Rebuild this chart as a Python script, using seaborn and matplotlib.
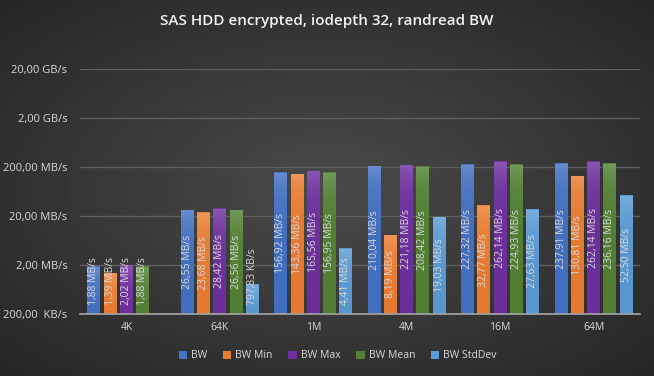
import numpy as np
import pandas as pd
import matplotlib
matplotlib.use("Agg")
import matplotlib.pyplot as plt
import matplotlib.colors as mcolors
import seaborn as sns

# DATA (MB/s)
sizes = ["4K", "64K", "1M", "4M", "16M", "64M"]
metrics = ["BW", "BW Min", "BW Max", "BW Mean", "BW StdDev"]
bw = [1.88, 26.55, 156.92, 210.04, 227.32, 237.91]
bw_min = [1.39, 23.68, 143.36, 8.19, 32.77, 130.81]
bw_max = [2.02, 28.42, 165.56, 221.18, 262.14, 262.14]
bw_mean = [1.88, 26.56, 156.95, 208.42, 224.93, 236.16]
bw_std = [np.nan, 0.79783, 4.41, 19.03, 27.63, 52.50]
ytick_vals = [0.2, 2, 20, 200, 2000, 20000]
ytick_labels = ["200,00  KB/s", "2,00 MB/s", "20,00 MB/s", "200,00 MB/s", "2,00 GB/s", "20,00 GB/s"]
colors = ["#4472C4", "#ED7D31", "#7030A0", "#548235", "#5B9BD5"]

rows = []
for m, vals in zip(metrics, [bw, bw_min, bw_max, bw_mean, bw_std]):
    for s, v in zip(sizes, vals):
        rows.append({"size": s, "metric": m, "bw": v})
df = pd.DataFrame(rows)

sns.set_style("dark")
plt.rcParams["font.family"] = ["Open Sans", "DejaVu Sans"]
txt = "#d9d9d9"

fig = plt.figure(figsize=(6.54, 3.76), dpi=100)

# dark radial background
bg = fig.add_axes([0, 0, 1, 1], zorder=-10)
yy, xx = np.mgrid[-1:1:200j, -1:1:300j]
r = np.sqrt(xx ** 2 + yy ** 2) / np.sqrt(2)
bg.imshow(0.29 - 0.14 * r, cmap="gray", vmin=0, vmax=1, aspect="auto", extent=[0, 1, 0, 1])
bg.axis("off")

ax = fig.add_axes([0.122, 0.165, 0.857, 0.652])
ax.set_facecolor("none")
sns.barplot(data=df, x="size", y="bw", hue="metric", palette=colors,
            width=0.87, gap=0.2, saturation=1, linewidth=0, ax=ax, zorder=3)
ax.set_yscale("log")
ax.set_ylim(0.2, 20000)
xlim = ax.get_xlim()

# light-to-dark gradient fill on every bar
for p in ax.patches:
    h = p.get_height()
    if not np.isfinite(h) or h <= 0:
        continue
    base = np.array(mcolors.to_rgb(p.get_facecolor()))
    top = base + (1 - base) * 0.2
    bot = base * 0.97
    f = np.linspace(0, 1, 64)[:, None]
    grad = (top[None, :] * (1 - f) + bot[None, :] * f)[:, None, :]
    im = ax.imshow(grad, extent=[p.get_x(), p.get_x() + p.get_width(), 0.2, h],
                   aspect="auto", origin="upper", interpolation="bilinear", zorder=3.5)
    im.set_clip_path(p)
ax.set_xlim(xlim)
ax.set_ylim(0.2, 20000)

ax.set_yticks(ytick_vals)
ax.set_yticklabels(ytick_labels)
ax.yaxis.set_minor_locator(matplotlib.ticker.NullLocator())
ax.tick_params(axis="y", colors=txt, labelsize=8, length=0, pad=9)
ax.tick_params(axis="x", colors=txt, labelsize=7.5, length=0, pad=6)
ax.set_xlabel("")
ax.set_ylabel("")
ax.grid(axis="y", color="#5e5e5e", linewidth=1, zorder=0)
ax.grid(axis="x", visible=False)
for sp in ["top", "right", "left"]:
    ax.spines[sp].set_visible(False)
ax.spines["bottom"].set_color("#a6a6a6")
ax.spines["bottom"].set_linewidth(1.2)
ax.spines["bottom"].set_zorder(6)

ax.legend(loc="upper center", bbox_to_anchor=(0.46, -0.11), ncol=5, frameon=False,
          fontsize=7.5, labelcolor=txt, handlelength=0.8, handleheight=0.8,
          handletextpad=0.4, columnspacing=1.5)

fig.suptitle("SAS HDD encrypted, iodepth 32, randread BW", color="#f2f2f2",
             fontsize=11, fontweight="semibold", y=0.962)

# value labels inside bars
def fmt(v):
    if v < 1:
        return f"{v * 1000:.2f} KB/s".replace(".", ",")
    return f"{v:.2f} MB/s".replace(".", ",")

labels = []
for p in ax.patches:
    h = p.get_height()
    if not np.isfinite(h) or h <= 0:
        continue
    xc = p.get_x() + p.get_width() / 2
    yc = np.sqrt(0.2 * h)
    t = ax.text(xc, yc, fmt(h), rotation=90, ha="center", va="center",
                color=txt, fontsize=7.5, zorder=5)
    labels.append(t)

fig.canvas.draw()
r_ = fig.canvas.get_renderer()
ybot = ax.transData.transform((0, 0.2))[1]
for t in labels:
    ext = t.get_window_extent(r_)
    if ext.y0 < ybot + 9:
        x0, _ = t.get_position()
        ynew = ax.transData.inverted().transform((0, ybot + 9 + ext.height / 2))[1]
        t.set_position((x0, ynew))

fig.savefig("out.png", dpi=100)
